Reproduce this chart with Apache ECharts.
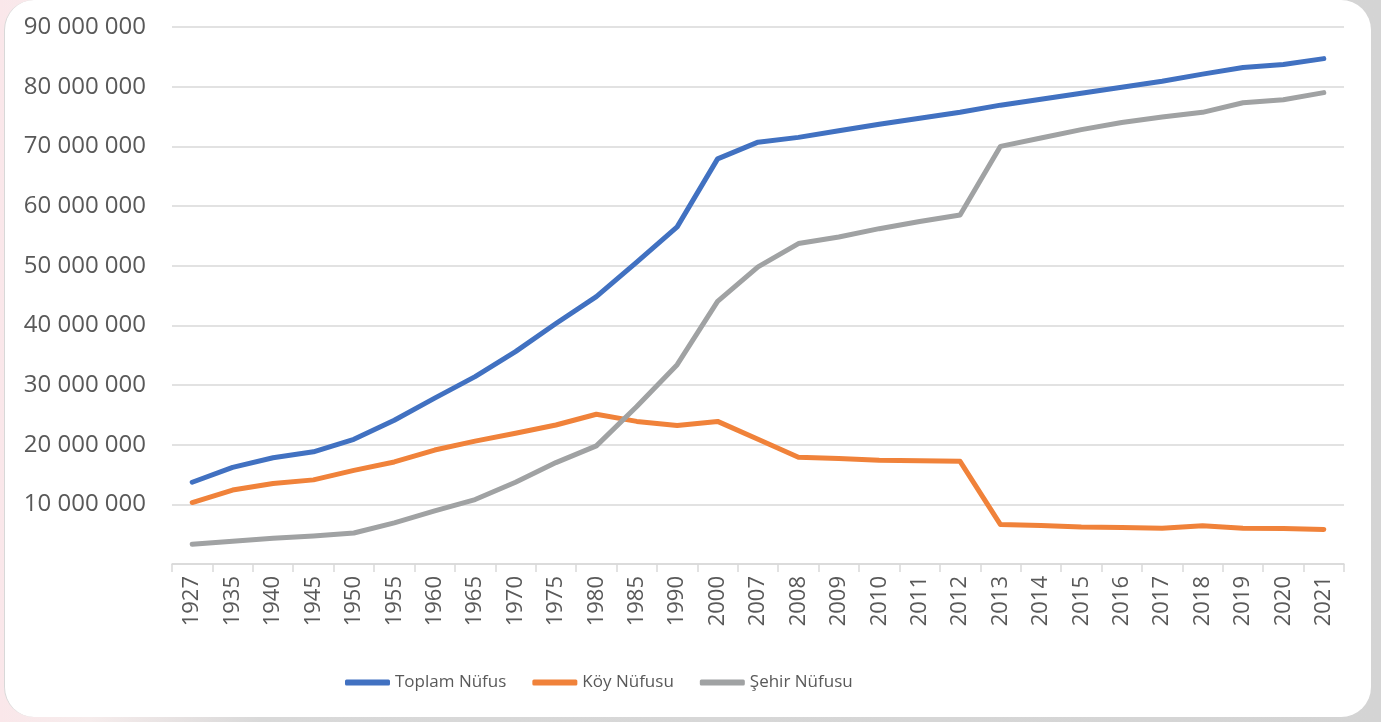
<!DOCTYPE html>
<html>
<head>
<meta charset="utf-8">
<title>Nüfus</title>
<script src="https://cdn.jsdelivr.net/npm/echarts@6/dist/echarts.min.js"></script>
<style>
    html, body { margin: 0; padding: 0; width: 1381px; height: 722px; overflow: hidden; }
    body { background: linear-gradient(90deg, #fae7ea 0px, #f6ecec 90px, #d9d9d9 260px, #d4d4d4 100%); position: relative; }
    #card { position: absolute; left: 4px; top: 0; width: 1367px; height: 717px; background: #fff; border-radius: 30px; border-left: 1px solid #d8d8d8; box-sizing: border-box; }
    #chart { position: absolute; left: 0; top: 0; width: 1381px; height: 722px; }
</style>
</head>
<body>
<div id="card"></div>
<div id="chart"></div>
<script>
// yıllar (kategori)
let years = ['1927', '1935', '1940', '1945', '1950', '1955', '1960', '1965', '1970', '1975',
    '1980', '1985', '1990', '2000', '2007', '2008', '2009', '2010', '2011', '2012',
    '2013', '2014', '2015', '2016', '2017', '2018', '2019', '2020', '2021'];

// toplam nüfus
let toplam = [13700000, 16200000, 17800000, 18800000, 20900000, 24100000, 27800000, 31400000, 35600000, 40300000,
    44800000, 50600000, 56500000, 67900000, 70700000, 71500000, 72600000, 73700000, 74700000, 75700000,
    76900000, 77900000, 78900000, 79900000, 80900000, 82100000, 83200000, 83700000, 84700000];

// köy nüfusu
let koy = [10300000, 12400000, 13500000, 14100000, 15700000, 17100000, 19100000, 20600000, 21900000, 23300000,
    25100000, 23900000, 23200000, 23900000, 20900000, 17900000, 17700000, 17400000, 17300000, 17200000,
    6600000, 6450000, 6200000, 6100000, 6000000, 6400000, 6000000, 5950000, 5800000];

// şehir nüfusu
let sehir = [3300000, 3800000, 4300000, 4700000, 5200000, 6900000, 8900000, 10800000, 13700000, 17000000,
    19800000, 26400000, 33400000, 44000000, 49800000, 53700000, 54800000, 56200000, 57400000, 58500000,
    70000000, 71400000, 72800000, 74000000, 74900000, 75700000, 77300000, 77800000, 79000000];

let seriesNames = ['Toplam Nüfus', 'Köy Nüfusu', 'Şehir Nüfusu'];
let seriesColors = ['#4171c1', '#f0823a', '#a0a2a3'];

let textColor = '#595959';
let fontName = "'Open Sans', 'Noto Sans', sans-serif";

function formatNum(v) {
    if (v === 0) return '';
    return String(v).replace(/\B(?=(\d{3})+(?!\d))/g, ' ');
}

let chartNode = echarts.init(document.getElementById('chart'), null, {renderer: 'canvas'});

let option = {
    animation: false,
    backgroundColor: 'transparent',
    grid: {
        left: 172,
        right: 37,
        top: 27,
        bottom: 158
    },
    legend: {
        top: 674,
        left: 345,
        padding: 0,
        icon: 'roundRect',
        itemWidth: 45,
        itemHeight: 6,
        itemGap: 26,
        textStyle: {
            color: textColor,
            fontSize: 17,
            fontFamily: fontName
        },
        data: seriesNames
    },
    xAxis: {
        type: 'category',
        data: years,
        boundaryGap: true,
        axisLine: {
            lineStyle: {color: '#d9d9d9', width: 1.5}
        },
        axisTick: {
            show: true,
            length: 8,
            lineStyle: {color: '#d9d9d9', width: 1.5}
        },
        axisLabel: {
            rotate: 90,
            margin: 12,
            color: textColor,
            fontSize: 22,
            fontFamily: fontName,
            interval: 0
        }
    },
    yAxis: {
        type: 'value',
        min: 0,
        max: 90000000,
        interval: 10000000,
        axisLine: {show: false},
        axisTick: {show: false},
        splitLine: {
            lineStyle: {color: '#d9d9d9', width: 1.5}
        },
        axisLabel: {
            margin: 26,
            color: textColor,
            fontSize: 24,
            fontFamily: fontName,
            formatter: formatNum
        }
    },
    series: [toplam, koy, sehir].map((d, i) => ({
        name: seriesNames[i],
        type: 'line',
        data: d,
        showSymbol: false,
        symbol: 'none',
        color: seriesColors[i],
        lineStyle: {width: 5, color: seriesColors[i], cap: 'round', join: 'round'}
    }))
};

chartNode.setOption(option);
</script>
</body>
</html>
